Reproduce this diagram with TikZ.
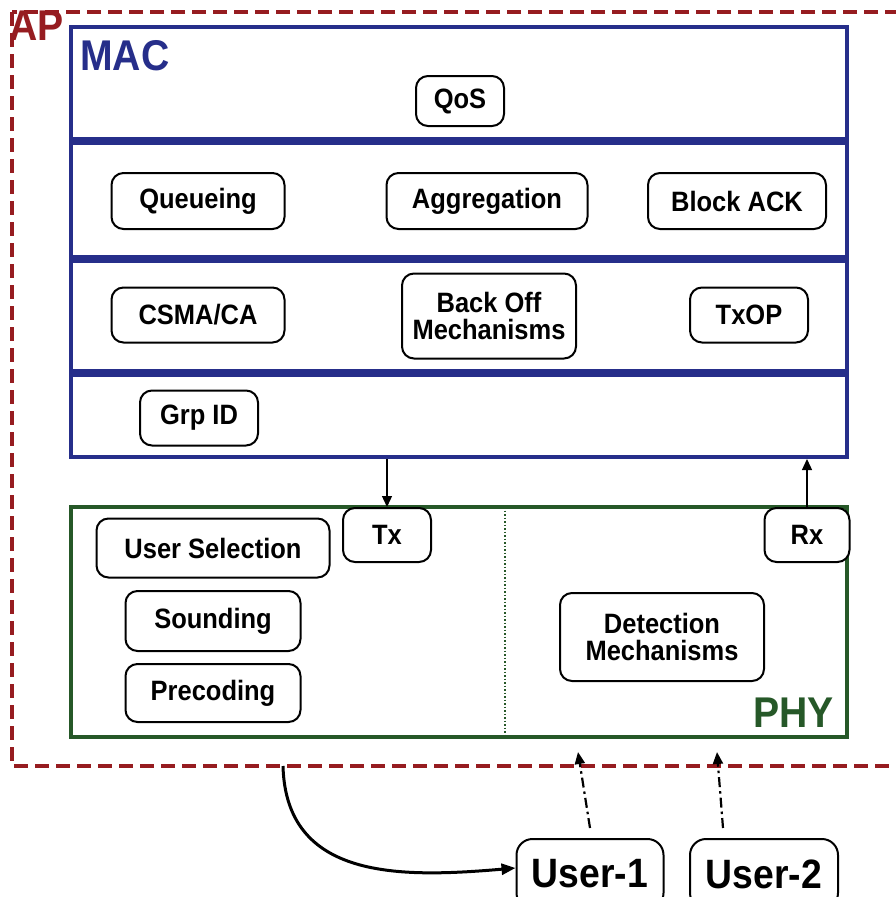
\documentclass[tikz,border=0pt]{standalone}
\usepackage{fontspec}
\setmainfont[FakeStretch=0.91]{Liberation Sans}
\usetikzlibrary{arrows.meta}
\definecolor{macblue}{RGB}{38,46,138}
\definecolor{apred}{RGB}{150,28,32}
\definecolor{phygreen}{RGB}{38,88,40}
\begin{document}
\begin{tikzpicture}[x=1pt,y=-1pt,
  box/.style={draw=black, line width=2pt, rounded corners=12pt, fill=white,
    font=\fontsize{28}{27}\selectfont\bfseries, align=center, inner sep=0pt},
  userbox/.style={box, font=\fontsize{41}{40}\selectfont\bfseries, rounded corners=16pt},
  layerline/.style={draw=macblue, line width=8pt},
  thinarrow/.style={draw=black, line width=1.3pt, -{Triangle[length=11pt,width=10pt]}},
  dasharrow/.style={draw=black, line width=2.2pt, dash pattern=on 10pt off 4pt on 2.5pt off 4pt,
    -{Triangle[length=12pt,width=10pt]}},
  title/.style={inner sep=0pt, font=\fontsize{43}{43}\selectfont\bfseries}
]
\clip (0,0) rectangle (896,897);
\fill[white] (0,0) rectangle (896,897);

% AP dashed frame
\draw[apred, line width=3.5pt, dash pattern=on 14pt off 7pt] (12,12) rectangle (930,766);
\node[title, text=apred, anchor=base west] (ap) at (9,40) {AP};

% MAC block
\node[draw=macblue, line width=4pt, minimum width=776pt, minimum height=430pt, inner sep=0pt] (mac) at (459,242) {};
\draw[layerline] (mac.west |- 0,141) -- (mac.east |- 0,141);
\draw[layerline] (mac.west |- 0,259) -- (mac.east |- 0,259);
\draw[layerline] (mac.west |- 0,373) -- (mac.east |- 0,373);
\node[title, text=macblue, anchor=base west] (mactitle) at (80,70) {MAC};

\node[box, minimum width=88pt, minimum height=50pt] (qos) at (460,101) {QoS};
\node[box, minimum width=173pt, minimum height=56pt] (queue) at (198,201) {Queueing};
\node[box, minimum width=201pt, minimum height=56pt] (aggr) at (487,201) {Aggregation};
\node[box, minimum width=178pt, minimum height=56pt] (back) at (737,201) {Block ACK};
\node[box, minimum width=173pt, minimum height=55pt] (csma) at (198,315) {CSMA/CA};
\node[box, minimum width=174pt, minimum height=85pt] (boff) at (489,316) {Back Off\\Mechanisms};
\node[box, minimum width=118pt, minimum height=55pt] (txop) at (749,315) {TxOP};
\node[box, minimum width=118pt, minimum height=55pt] (grp) at (199,418) {Grp ID};

% PHY block
\node[draw=phygreen, line width=4pt, minimum width=776pt, minimum height=230pt, inner sep=0pt] (phy) at (459,622) {};
\draw[phygreen, line width=1.5pt, dotted] (505,507) -- (505,737);
\node[title, text=phygreen, anchor=base east] (phytitle) at (834,727) {PHY};

\node[box, minimum width=88pt, minimum height=54pt] (tx) at (387,535) {Tx};
\node[box, minimum width=85pt, minimum height=54pt] (rx) at (807,535) {Rx};
\node[box, minimum width=233pt, minimum height=59pt] (usel) at (213,548) {User Selection};
\node[box, minimum width=175pt, minimum height=60pt] (sound) at (213,621) {Sounding};
\node[box, minimum width=175pt, minimum height=58pt] (prec) at (213,693) {Precoding};
\node[box, minimum width=204pt, minimum height=88pt] (det) at (662,637) {Detection\\Mechanisms};

\draw[thinarrow] (tx.north |- mac.south) -- (tx.north);
\draw[thinarrow] (rx.north) -- (rx.north |- mac.south);

% Users
\node[userbox, minimum width=147pt, minimum height=70pt] (u1) at (590,874) {User-1};
\node[userbox, minimum width=148pt, minimum height=70pt] (u2) at (764,874) {User-2};

\coordinate (apb) at (283,766);
\coordinate (u1top) at (590,828);
\coordinate (u2top) at (723,828);
\coordinate (u1in) at (578,752);
\coordinate (u2in) at (717,752);
\draw[dasharrow] (u1top) -- (u1in);
\draw[dasharrow] (u2top) -- (u2in);
\draw[black, line width=3pt, -{Triangle[length=14pt,width=11pt]}] (apb) .. controls (286,880) and (400,878) .. (u1.west |- 0,868);
\end{tikzpicture}
\end{document}
